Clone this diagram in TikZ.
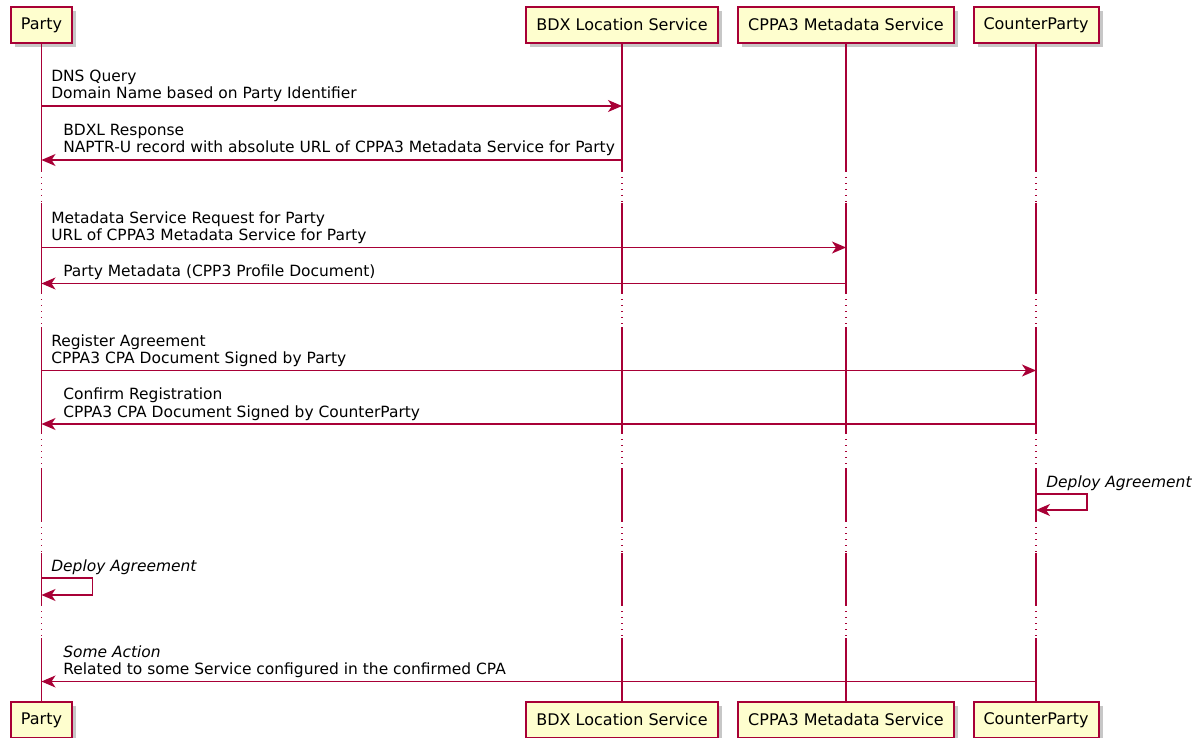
\documentclass[tikz,border=0pt]{standalone}
\usepackage{fontspec}
\setmainfont{DejaVu Sans}
\usetikzlibrary{arrows.meta,shadows}
\definecolor{umlred}{HTML}{A80036}
\definecolor{umlfill}{HTML}{FEFECE}
\tikzset{
  actor/.style={draw=umlred, fill=umlfill, line width=1.5pt, minimum height=27pt, inner xsep=7.5pt,
    font=\fontsize{12pt}{14pt}\selectfont,
    drop shadow={shadow xshift=3pt, shadow yshift=-3pt, fill=black, opacity=0.22}},
  life/.style={umlred, line width=0.9pt},
  delay/.style={umlred, line width=0.9pt, dash pattern=on 1pt off 3.5pt},
  msg/.style={umlred, line width=0.9pt, -{Stealth[length=10.5pt,width=9pt,inset=3pt]}},
  lbl/.style={anchor=base west, inner sep=0pt, align=left, font=\fontsize{11.6pt}{13pt}\selectfont},
}
\begin{document}
\begin{tikzpicture}[x=0.75pt, y=-0.75pt]
        \useasboundingbox (0,0) rectangle (1196,738);
        % Participants
        \node[actor] (P) at (41.5,25) {Party};
        \node[actor] (B) at (622,25) {BDX Location Service};
        \node[actor] (M) at (846,25) {CPPA3 Metadata Service};
        \node[actor] (C) at (1036,25) {CounterParty};
        \node[actor] (P2) at (41.5,720) {Party};
        \node[actor] (B2) at (622,720) {BDX Location Service};
        \node[actor] (M2) at (846,720) {CPPA3 Metadata Service};
        \node[actor] (C2) at (1036,720) {CounterParty};

        % Lifelines with delays
        \foreach \n in {P,B,M,C} {
          \draw[life] (\n.south) -- (\n |- 0,171);
          \foreach \a/\b/\c in {171/203/293, 293/327/433, 433/468/521, 521/553/605} {
            \draw[delay] (\n |- 0,\a) -- (\n |- 0,\b);
            \draw[life] (\n |- 0,\b) -- (\n |- 0,\c);
          }
          \draw[delay] (\n |- 0,605) -- (\n |- 0,638);
          \draw[life] (\n |- 0,638) -- (\n2.north);
        }

        % Messages
        \draw[msg] (P |- 0,106) -- (B |- 0,106);
        \node[lbl] (m1) at (51,99) {DNS Query\\Domain Name based on Party Identifier};
        \draw[msg] (B |- 0,160) -- (P |- 0,160);
        \node[lbl] (m2) at (63,153) {BDXL Response\\NAPTR-U record with absolute URL of CPPA3 Metadata Service for Party};

        \draw[msg] (P |- 0,247.5) -- (M |- 0,247.5);
        \node[lbl] (m3) at (51,240.5) {Metadata Service Request for Party\\URL of CPPA3 Metadata Service for Party};
        \draw[msg] (M |- 0,283.5) -- (P |- 0,283.5);
        \node[lbl] (m4) at (63,276.5) {Party Metadata (CPP3 Profile Document)};

        \draw[msg] (P |- 0,370.5) -- (C |- 0,370.5);
        \node[lbl] (m5) at (51,363.5) {Register Agreement\\CPPA3 CPA Document Signed by Party};
        \draw[msg] (C |- 0,424) -- (P |- 0,424);
        \node[lbl] (m6) at (63,417) {Confirm Registration\\CPPA3 CPA Document Signed by CounterParty};

        % Self messages
        \draw[msg] (C |- 0,494) -- ++(51,0) -- ++(0,16) -- (C |- 0,510);
        \node[lbl] (m7) at (1046,487) {\itshape Deploy Agreement};
        \draw[msg] (P |- 0,578) -- ++(51,0) -- ++(0,17) -- (P |- 0,595);
        \node[lbl] (m8) at (51,571) {\itshape Deploy Agreement};

        \draw[msg] (C |- 0,681.5) -- (P |- 0,681.5);
        \node[lbl] (m9) at (63,674.5) {\textit{Some Action}\\Related to some Service configured in the confirmed CPA};
\end{tikzpicture}
\end{document}
